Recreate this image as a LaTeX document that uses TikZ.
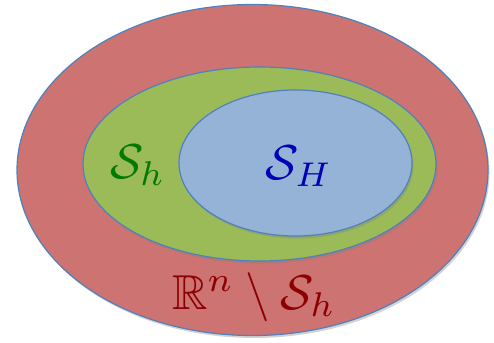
\documentclass[tikz,border=0pt]{standalone}
\usepackage{amsmath, amssymb}
\usetikzlibrary{positioning, shapes.geometric, shadows}
\definecolor{Rim}{HTML}{4F81BD}
\definecolor{Outer}{HTML}{CD7371}
\definecolor{Middle}{HTML}{9BBB59}
\definecolor{Inner}{HTML}{95B3D7}
\definecolor{GreenText}{HTML}{007A00}
\definecolor{BlueText}{HTML}{0000B4}
\definecolor{RedText}{HTML}{8C0000}
\tikzset{
    setblob/.style={ellipse, draw=Rim, line width=1.2pt, inner sep=0pt,
        drop shadow={shadow xshift=1.5pt, shadow yshift=-2.5pt, opacity=0.35}},
    setlabel/.style={scale=4.9, inner sep=0pt},
}

\begin{document}
\begin{tikzpicture}[x=1pt, y=-1pt]
    \useasboundingbox (0,0) rectangle (494,342);
    % Regioni
    \node[setblob, fill=Outer, minimum width=471pt, minimum height=331pt] (outer) at (252.5,170) {};
    \node[setblob, fill=Middle, minimum width=353pt, minimum height=194pt] (middle) at (259.5,164) {};
    \node[setblob, fill=Inner, minimum width=233pt, minimum height=146pt] (inner) at (295.5,163) {};
    % Etichette
    \node[setlabel, text=GreenText] (lblh) at (138,165) {$\mathcal{S}_h$};
    \node[setlabel, text=BlueText] (lblH) at (299,166) {$\mathcal{S}_H$};
    \node[setlabel, text=RedText] (lblout) at (254,297) {$\mathbb{R}^n\setminus\mathcal{S}_h$};
\end{tikzpicture}
\end{document}
